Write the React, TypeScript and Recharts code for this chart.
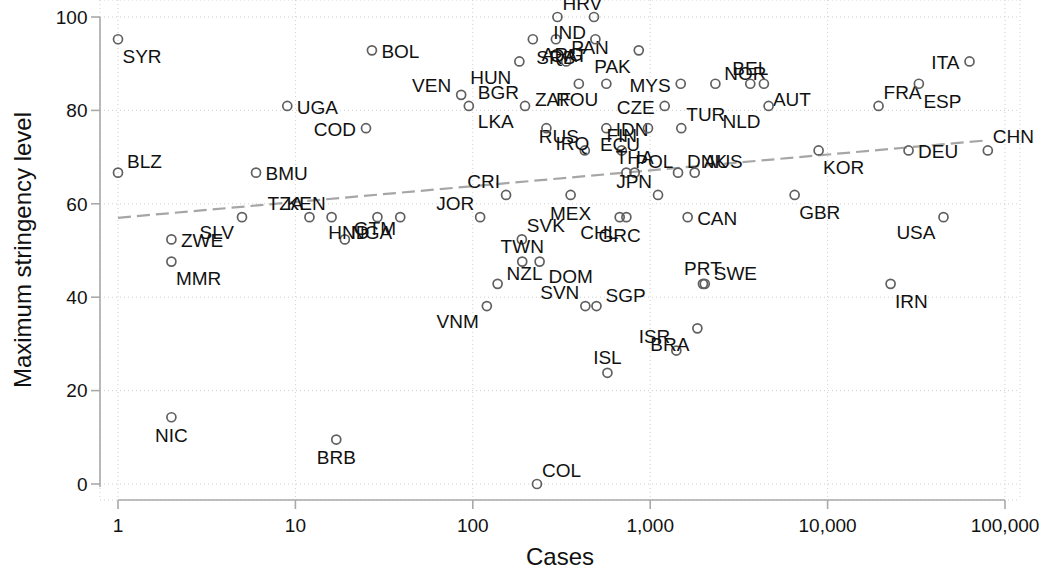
import React from 'react';
import { ScatterChart, Scatter, XAxis, YAxis, CartesianGrid, ReferenceLine, Label } from 'recharts';

// ---------- data ----------
const countries = [
  'SYR', 'BLZ', 'NIC', 'ZWE', 'MMR', 'SLV', 'BMU', 'UGA', 'TZA', 'KEN',
  'BRB', 'GTM', 'COD', 'BOL', 'HND', 'NGA', 'VEN', 'LKA', 'JOR', 'VNM',
  'NZL', 'CRI', 'HUN', 'SVK', 'TWN', 'BGR', 'ARG', 'COL', 'DOM', 'HRV',
  'PAN', 'SRB', 'MEX', 'ZAF', 'RUS', 'IRQ', 'SVN', 'IND', 'QAT', 'SGP',
  'IDN', 'ROU', 'ISL', 'GRC', 'FIN', 'POL', 'CHL', 'THA', 'PAK', 'ECU',
  'JPN', 'CZE', 'ISR', 'DNK', 'MYS', 'TUR', 'CAN', 'AUS', 'BRA', 'PRT',
  'SWE', 'NOR', 'BEL', 'AUT', 'NLD', 'GBR', 'KOR', 'FRA', 'IRN', 'DEU',
  'ESP', 'USA', 'ITA', 'CHN',
];

const cases = [
  1, 1, 2, 2, 2, 5, 6, 9, 12, 16,
  17, 19, 25, 27, 29, 39, 86, 95, 110, 120,
  138, 154, 183, 189, 190, 197, 218, 230, 238, 300,
  336, 294, 356, 396, 428, 260, 431, 482, 491, 498,
  566, 566, 574, 673, 691, 734, 734, 818, 862, 972,
  1107, 1207, 1404, 1435, 1486, 1497, 1626, 1782, 1845, 1983,
  2030, 2330, 3665, 4375, 4650, 6520, 8900, 19370, 22650, 28600,
  32700, 45000, 63100, 80000,
];

const stringency = [
  95.24, 66.67, 14.29, 52.38, 47.62, 57.14, 66.67, 80.95, 57.14, 57.14,
  9.52, 52.38, 76.19, 92.86, 57.14, 57.14, 83.33, 80.95, 57.14, 38.1,
  42.86, 61.9, 90.48, 52.38, 47.62, 80.95, 95.24, 0, 47.62, 100,
  90.48, 95.24, 61.9, 85.71, 71.43, 76.19, 38.1, 100, 95.24, 38.1,
  76.19, 85.71, 23.81, 57.14, 71.43, 66.67, 57.14, 66.67, 92.86, 76.19,
  61.9, 80.95, 28.57, 66.67, 85.71, 76.19, 57.14, 66.67, 33.33, 42.86,
  42.86, 85.71, 85.71, 85.71, 80.95, 61.9, 71.43, 80.95, 42.86, 71.43,
  85.71, 57.14, 90.48, 71.43,
];

// fitted line end points
const trendCases = [1, 80000];
const trendLevel = [57, 73.6];

const xTicks = [1, 10, 100, 1000, 10000, 100000];
const yTicks = [0, 20, 40, 60, 80, 100];

// ---------- styling: label clock positions ----------
const labelClock: Record<string, number> = {
  SYR: 5, BLZ: 2, NIC: 6, ZWE: 3, MMR: 5, SLV: 7, BMU: 3, UGA: 3, TZA: 11, KEN: 11,
  BRB: 6, GTM: 2, COD: 9, BOL: 3, HND: 7, NGA: 7, VEN: 10, LKA: 4, JOR: 11, VNM: 7,
  NZL: 2, CRI: 11, HUN: 7, SVK: 1, TWN: 12, BGR: 11, ARG: 4, COL: 1, DOM: 4, HRV: 1,
  PAN: 1, SRB: 6, MEX: 6, ZAF: 7, RUS: 11, IRQ: 4, SVN: 11, IND: 7, QAT: 7, SGP: 2,
  IDN: 3, ROU: 7, ISL: 12, GRC: 6, FIN: 12, POL: 2, CHL: 7, THA: 12, PAK: 7, ECU: 7,
  JPN: 11, CZE: 9, ISR: 11, DNK: 2, MYS: 9, TUR: 1, CAN: 3, AUS: 2, BRA: 7, PRT: 12,
  SWE: 2, NOR: 2, BEL: 12, AUT: 4, NLD: 7, GBR: 5, KOR: 5, FRA: 1, IRN: 5, DEU: 3,
  ESP: 5, USA: 7, ITA: 9, CHN: 1,
};

type Place = { anchor: 'start' | 'middle' | 'end'; dx: number; dy: number };
const CLOCK: Record<number, Place> = {
  1: { anchor: 'start', dx: 5, dy: -14 },
  2: { anchor: 'start', dx: 9, dy: -11 },
  3: { anchor: 'start', dx: 9.5, dy: 1 },
  4: { anchor: 'start', dx: 9, dy: 15 },
  5: { anchor: 'start', dx: 4.5, dy: 17 },
  6: { anchor: 'middle', dx: 0, dy: 18 },
  7: { anchor: 'end', dx: -8, dy: 15.5 },
  9: { anchor: 'end', dx: -10, dy: 1 },
  10: { anchor: 'end', dx: -10, dy: -10 },
  11: { anchor: 'end', dx: -6, dy: -14 },
  12: { anchor: 'middle', dx: 0, dy: -15.5 },
};

const FONT = '"Liberation Sans", Arial, Helvetica, sans-serif';
const LABEL_SIZE = 19;
const AXIS_GRAY = '#a9a9a9';

const data = countries.map((code, i) => ({ code, cases: cases[i], level: stringency[i] }));

const PointShape = (props: any) => {
  const { cx, cy, payload } = props;
  if (cx == null || cy == null) return null;
  const p = CLOCK[labelClock[payload.code] ?? 3];
  return (
    <g>
      <circle cx={cx} cy={cy} r={4.5} fill="none" stroke="#606060" strokeWidth={1.7} />
      <text
        x={cx + p.dx}
        y={cy + p.dy + 0.36 * LABEL_SIZE}
        textAnchor={p.anchor}
        fontSize={LABEL_SIZE}
        fontFamily={FONT}
        fill="#111"
      >
        {payload.code}
      </text>
    </g>
  );
};

const fmt = (v: number) => v.toLocaleString('en-US');

export default function App() {
  return (
    <div style={{ position: 'absolute', left: 0, top: 0, width: 1046, height: 570, background: '#fff' }}>
      <ScatterChart
        width={1046}
        height={570}
        margin={{ top: 0, right: 26, bottom: 0, left: 0 }}
        style={{ fontFamily: FONT, overflow: 'visible' }}
      >
        <CartesianGrid stroke="#cfcfcf" strokeDasharray="1 3" strokeWidth={1} />
        <XAxis
          type="number"
          dataKey="cases"
          scale="log"
          domain={[1, 100000]}
          ticks={xTicks}
          interval={0}
          tickFormatter={fmt}
          padding={{ left: 18, right: 15 }}
          height={70}
          tickSize={9}
          tickMargin={9.5}
          tick={{ fontSize: 19, fill: '#111', fontFamily: FONT }}
          tickLine={{ stroke: AXIS_GRAY, strokeWidth: 1.6 }}
          axisLine={{ stroke: AXIS_GRAY, strokeWidth: 1.6, strokeDasharray: '0 18 887 3000' }}
        >
          <Label
            content={(p: any) => {
              const vb = p.viewBox || { x: 100, y: 500, width: 920 };
              return (
                <text
                  x={vb.x + vb.width / 2}
                  y={vb.y + 65}
                  textAnchor="middle"
                  fontSize={24}
                  fontFamily={FONT}
                  fill="#111"
                >
                  Cases
                </text>
              );
            }}
          />
        </XAxis>
        <YAxis
          type="number"
          dataKey="level"
          domain={[0, 100]}
          ticks={yTicks}
          interval={0}
          width={100}
          padding={{ top: 17, bottom: 16 }}
          tickSize={9}
          tickMargin={3.5}
          tick={{ fontSize: 19, fill: '#111', fontFamily: FONT }}
          tickLine={{ stroke: AXIS_GRAY, strokeWidth: 1.6 }}
          axisLine={{ stroke: AXIS_GRAY, strokeWidth: 1.6, strokeDasharray: '0 17 470 3000' }}
        >
          <Label
            content={(p: any) => {
              const vb = p.viewBox || { x: 0, y: 0, height: 500 };
              const cx = vb.x + 31;
              const cy = vb.y + vb.height / 2;
              return (
                <text
                  x={cx}
                  y={cy}
                  transform={`rotate(-90 ${cx} ${cy})`}
                  textAnchor="middle"
                  fontSize={24}
                  fontFamily={FONT}
                  fill="#111"
                >
                  Maximum stringency level
                </text>
              );
            }}
          />
        </YAxis>
        <ReferenceLine
          segment={[
            { x: trendCases[0], y: trendLevel[0] },
            { x: trendCases[1], y: trendLevel[1] },
          ]}
          stroke="#a6a6a6"
          strokeWidth={2.2}
          strokeDasharray="13 6"
          ifOverflow="visible"
        />
        <Scatter data={data} isAnimationActive={false} shape={(p: any) => <PointShape {...p} />} />
      </ScatterChart>
    </div>
  );
}
